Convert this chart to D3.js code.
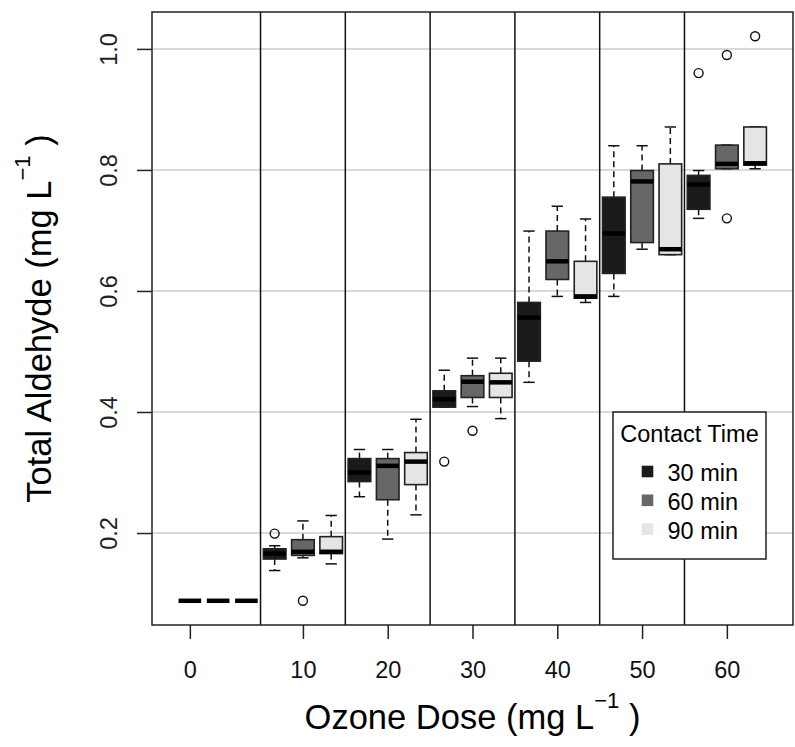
<!DOCTYPE html>
<html>
<head>
<meta charset="utf-8">
<script src="https://cdn.jsdelivr.net/npm/d3@7"></script>
<style>
  body { margin: 0; background: #ffffff; }
  svg { display: block; font-family: "Liberation Sans", Arial, sans-serif; }
</style>
</head>
<body>
<div id="chart_div"></div>
<script>

/*
 * Data
 */
var doseLabels = ['0', '10', '20', '30', '40', '50', '60'];
var doseTickPos = [1, 5, 8, 11, 14, 17, 20];
var contactTimes = ['30 min', '60 min', '90 min'];
var contactColours = ['#1a1a1a', '#676767', '#e5e5e5'];

// one entry per box, ordered dose then contact time (positions 1..21)
var whiskerLow  = [0.088, 0.088, 0.088, 0.138, 0.159, 0.149, 0.260, 0.190, 0.230, 0.408, 0.409, 0.389, 0.449, 0.591, 0.581, 0.591, 0.669, 0.660, 0.720, 0.802, 0.802];
var quart1      = [0.088, 0.088, 0.088, 0.157, 0.163, 0.166, 0.285, 0.255, 0.280, 0.408, 0.424, 0.424, 0.484, 0.619, 0.588, 0.629, 0.680, 0.660, 0.735, 0.802, 0.808];
var medians     = [0.088, 0.088, 0.088, 0.166, 0.169, 0.169, 0.300, 0.311, 0.318, 0.421, 0.450, 0.449, 0.556, 0.649, 0.591, 0.695, 0.781, 0.669, 0.776, 0.810, 0.811];
var quart3      = [0.088, 0.088, 0.088, 0.174, 0.189, 0.194, 0.323, 0.323, 0.333, 0.435, 0.460, 0.464, 0.581, 0.699, 0.649, 0.755, 0.799, 0.810, 0.791, 0.841, 0.871];
var whiskerHigh = [0.088, 0.088, 0.088, 0.179, 0.220, 0.229, 0.338, 0.338, 0.388, 0.469, 0.489, 0.489, 0.699, 0.740, 0.719, 0.840, 0.840, 0.871, 0.799, 0.841, 0.871];

// outliers as [box position, value]
var outliers = [[4, 0.199], [5, 0.088], [10, 0.318], [11, 0.369], [19, 0.960], [20, 0.990], [20, 0.720], [21, 1.021]];

var yTicks = [0.2, 0.4, 0.6, 0.8, 1.0];
var groupBreaks = [3.5, 6.5, 9.5, 12.5, 15.5, 18.5];

/*
 * Layout
 */
var width = 795, height = 747;
var plotLeft = 152, plotRight = 793, plotTop = 12, plotBottom = 625;
var baseFont = 23.5, titleFont = 34.5;

var svg = d3.select('#chart_div').append('svg')
  .attr('width', width)
  .attr('height', height);

var x = d3.scaleLinear().domain([-0.34, 22.34]).range([plotLeft, plotRight]);
var y = d3.scaleLinear().domain([0.048, 1.061]).range([plotBottom, plotTop]);

var boxes = d3.range(whiskerLow.length).map(function(i) {
  return {
    pos: i + 1,
    lo: whiskerLow[i], q1: quart1[i], med: medians[i], q3: quart3[i], hi: whiskerHigh[i],
    fill: contactColours[i % 3]
  };
});

var boxW = x(0.8) - x(0);

/*
 * Grid and group separators
 */
svg.append('g')
  .selectAll('line')
  .data(yTicks)
  .enter().append('line')
  .attr('x1', plotLeft).attr('x2', plotRight)
  .attr('y1', function(d) { return y(d); })
  .attr('y2', function(d) { return y(d); })
  .attr('stroke', '#cccccc')
  .attr('stroke-width', 1.5);

svg.append('g')
  .selectAll('line')
  .data(groupBreaks)
  .enter().append('line')
  .attr('x1', function(d) { return x(d); })
  .attr('x2', function(d) { return x(d); })
  .attr('y1', plotTop).attr('y2', plotBottom)
  .attr('stroke', '#111')
  .attr('stroke-width', 1.5);

/*
 * Boxes
 */
var bg = svg.append('g')
  .selectAll('g')
  .data(boxes)
  .enter().append('g');

// whiskers (dashed)
bg.append('line')
  .attr('x1', function(d) { return x(d.pos); })
  .attr('x2', function(d) { return x(d.pos); })
  .attr('y1', function(d) { return y(d.q3); })
  .attr('y2', function(d) { return y(d.hi); })
  .attr('stroke', '#111').attr('stroke-width', 1.5)
  .attr('stroke-dasharray', '6,4');

bg.append('line')
  .attr('x1', function(d) { return x(d.pos); })
  .attr('x2', function(d) { return x(d.pos); })
  .attr('y1', function(d) { return y(d.q1); })
  .attr('y2', function(d) { return y(d.lo); })
  .attr('stroke', '#111').attr('stroke-width', 1.5)
  .attr('stroke-dasharray', '6,4');

// staples
['hi', 'lo'].forEach(function(k) {
  bg.append('line')
    .attr('x1', function(d) { return x(d.pos) - boxW / 4; })
    .attr('x2', function(d) { return x(d.pos) + boxW / 4; })
    .attr('y1', function(d) { return y(d[k]); })
    .attr('y2', function(d) { return y(d[k]); })
    .attr('stroke', '#111').attr('stroke-width', 1.5);
});

// box bodies
bg.append('rect')
  .attr('x', function(d) { return x(d.pos) - boxW / 2; })
  .attr('width', boxW)
  .attr('y', function(d) { return y(d.q3); })
  .attr('height', function(d) { return y(d.q1) - y(d.q3); })
  .attr('fill', function(d) { return d.fill; })
  .attr('stroke', '#222')
  .attr('stroke-width', 1.6);

// medians
bg.append('line')
  .attr('x1', function(d) { return x(d.pos) - boxW / 2; })
  .attr('x2', function(d) { return x(d.pos) + boxW / 2; })
  .attr('y1', function(d) { return y(d.med); })
  .attr('y2', function(d) { return y(d.med); })
  .attr('stroke', '#000')
  .attr('stroke-width', 4.5);

// outliers
svg.append('g')
  .selectAll('circle')
  .data(outliers)
  .enter().append('circle')
  .attr('cx', function(d) { return x(d[0]); })
  .attr('cy', function(d) { return y(d[1]); })
  .attr('r', 4.5)
  .attr('fill', 'none')
  .attr('stroke', '#111')
  .attr('stroke-width', 1.4);

/*
 * Axes
 */
var xAxis = d3.axisBottom(x)
  .tickValues(doseTickPos)
  .tickFormat(function(d, i) { return doseLabels[i]; })
  .tickSize(14)
  .tickPadding(22);

var gx = svg.append('g')
  .attr('transform', 'translate(0,' + plotBottom + ')')
  .call(xAxis);
gx.select('.domain').remove();
gx.selectAll('line').attr('stroke', '#222').attr('stroke-width', 1.5);
gx.selectAll('text')
  .attr('font-size', baseFont)
  .attr('font-family', '"Liberation Sans", Arial, sans-serif')
  .attr('fill', '#111');

var yAxis = d3.axisLeft(y)
  .tickValues(yTicks)
  .tickFormat(d3.format('.1f'))
  .tickSize(15);

var gy = svg.append('g')
  .attr('transform', 'translate(' + plotLeft + ',0)')
  .call(yAxis);
gy.select('.domain').remove();
gy.selectAll('line').attr('stroke', '#222').attr('stroke-width', 1.5);
gy.selectAll('text')
  .attr('x', 0)
  .attr('y', -35)
  .attr('dy', null)
  .attr('transform', 'rotate(-90)')
  .attr('text-anchor', 'middle')
  .attr('font-size', baseFont)
  .attr('font-family', '"Liberation Sans", Arial, sans-serif')
  .attr('fill', '#222');

// plot frame
svg.append('rect')
  .attr('x', plotLeft).attr('y', plotTop)
  .attr('width', plotRight - plotLeft)
  .attr('height', plotBottom - plotTop)
  .attr('fill', 'none')
  .attr('stroke', '#222')
  .attr('stroke-width', 1.5);

/*
 * Axis titles
 */
function unitTitle(sel, label) {
  sel.append('tspan').text(label + ' (mg L');
  sel.append('tspan').attr('font-size', titleFont * 0.64).attr('dy', -titleFont * 0.6).text('\u22121');
  sel.append('tspan').attr('dy', titleFont * 0.6).text(' )');
}

var xt = svg.append('text')
  .attr('x', (plotLeft + plotRight) / 2)
  .attr('y', 729)
  .attr('text-anchor', 'middle')
  .attr('font-size', titleFont)
  .attr('fill', '#000');
unitTitle(xt, 'Ozone Dose');

var yt = svg.append('text')
  .attr('transform', 'translate(50.5,' + (plotTop + plotBottom) / 2 + ') rotate(-90)')
  .attr('text-anchor', 'middle')
  .attr('font-size', titleFont)
  .attr('fill', '#000');
unitTitle(yt, 'Total Aldehyde');

/*
 * Legend
 */
var lg = svg.append('g');
lg.append('rect')
  .attr('x', 613).attr('y', 412)
  .attr('width', 153).attr('height', 147)
  .attr('fill', '#ffffff')
  .attr('stroke', '#222')
  .attr('stroke-width', 1.5);
lg.append('text')
  .attr('x', 689.5).attr('y', 442)
  .attr('text-anchor', 'middle')
  .attr('font-size', baseFont)
  .attr('fill', '#000')
  .text('Contact Time');

var li = lg.selectAll('g.item')
  .data(contactTimes)
  .enter().append('g')
  .attr('class', 'item')
  .attr('transform', function(d, i) { return 'translate(0,' + (471.5 + i * 28.8) + ')'; });
li.append('rect')
  .attr('x', 641.7).attr('y', -5.8)
  .attr('width', 11.6).attr('height', 11.6)
  .attr('fill', function(d, i) { return contactColours[i]; });
li.append('text')
  .attr('x', 667.5).attr('y', 9.5)
  .attr('font-size', baseFont)
  .attr('fill', '#000')
  .text(function(d) { return d; });

</script>
</body>
</html>
